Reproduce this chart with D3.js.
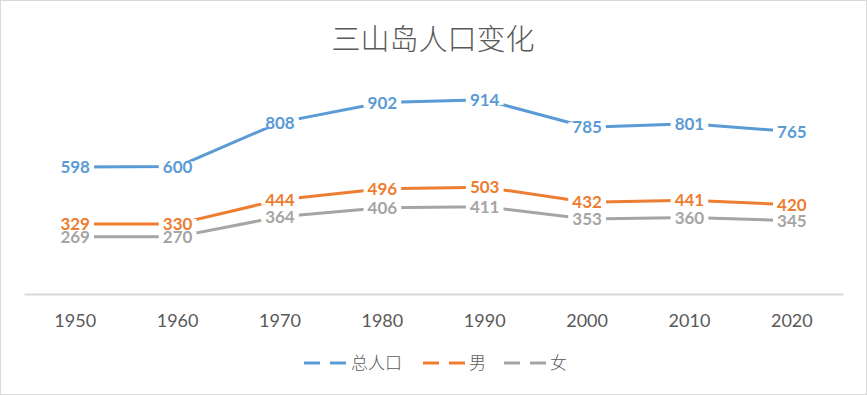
<!DOCTYPE html>
<html><head><meta charset="utf-8">
<script src="https://cdn.jsdelivr.net/npm/d3@7"></script>
<style>
html,body{margin:0;padding:0;background:#fff;}
svg{display:block;}
</style></head>
<body>
<svg id="c" width="867" height="395"></svg>
<script>
const years = ["1950","1960","1970","1980","1990","2000","2010","2020"];
const seriesNames = ["总人口","男","女"];
const totalPop = [598,600,808,902,914,785,801,765];
const male = [329,330,444,496,503,432,441,420];
const female = [269,270,364,406,411,353,360,345];
const colors = ["#5B9BD5","#ED7D31","#A5A5A5"];
const title = "三山岛人口变化";

const series = [totalPop, male, female].map((v,i)=>({name:seriesNames[i], values:v, color:colors[i]}));

const svg = d3.select("#c");
const W=867,H=395;
svg.append("rect").attr("x",0.5).attr("y",0.5).attr("width",W-1).attr("height",H-1)
  .attr("fill","#fff").attr("stroke","#D9D9D9").attr("stroke-width",1);

const x = d3.scaleBand().domain(years).range([24,843]);
const y = d3.scaleLinear().domain([0,1000]).range([294,81.6]);

svg.append("text").attr("x",433).attr("y",50).attr("text-anchor","middle")
  .attr("font-family","'Noto Sans CJK SC'").attr("font-weight",300).attr("font-size",29)
  .attr("fill","#595959").text(title);

// axis
const ax = svg.append("g").attr("transform","translate(0,294)")
  .call(d3.axisBottom(x).tickSize(0).tickPadding(20));
ax.select(".domain").attr("stroke","#D9D9D9").attr("stroke-width",2);
ax.selectAll("text").attr("font-family","Lato, 'Open Sans', sans-serif").attr("font-size",18).attr("fill","#595959");

const cx = d => x(d)+x.bandwidth()/2;
const line = d3.line().x((d,i)=>cx(years[i])).y(d=>y(d));

series.forEach(s=>{
  svg.append("path").attr("d",line(s.values)).attr("fill","none")
    .attr("stroke",s.color).attr("stroke-width",3).attr("stroke-linejoin","round");
});

const rectLayer = svg.append("g");
const textLayer = svg.append("g");
series.forEach(s=>{
  s.values.forEach((v,i)=>{
    const t = textLayer.append("text").attr("x",cx(years[i])).attr("y",y(v)).attr("dy","0.36em")
      .attr("text-anchor","middle").attr("font-family","Lato, 'Open Sans', sans-serif")
      .attr("font-weight",700).attr("font-size",17).attr("fill",s.color).text(v);
    const b = t.node().getBBox();
    rectLayer.append("rect").attr("fill","#fff")
      .attr("x",b.x-4).attr("y",y(v)-5).attr("width",b.width+8).attr("height",10);
  });
});

// legend
const legendItems = [
  {x:304, tx:351},
  {x:423, tx:469},
  {x:504, tx:550}
];
series.forEach((s,i)=>{
  const L = legendItems[i];
  svg.append("line").attr("x1",L.x).attr("x2",L.x+42).attr("y1",363).attr("y2",363)
    .attr("stroke",s.color).attr("stroke-width",3).attr("stroke-dasharray","16,10");
  svg.append("text").attr("x",L.tx).attr("y",363).attr("dy","0.36em")
    .attr("font-family","'Noto Sans CJK SC'").attr("font-weight",300).attr("font-size",17)
    .attr("fill","#595959").text(s.name);
});
</script>
</body></html>
